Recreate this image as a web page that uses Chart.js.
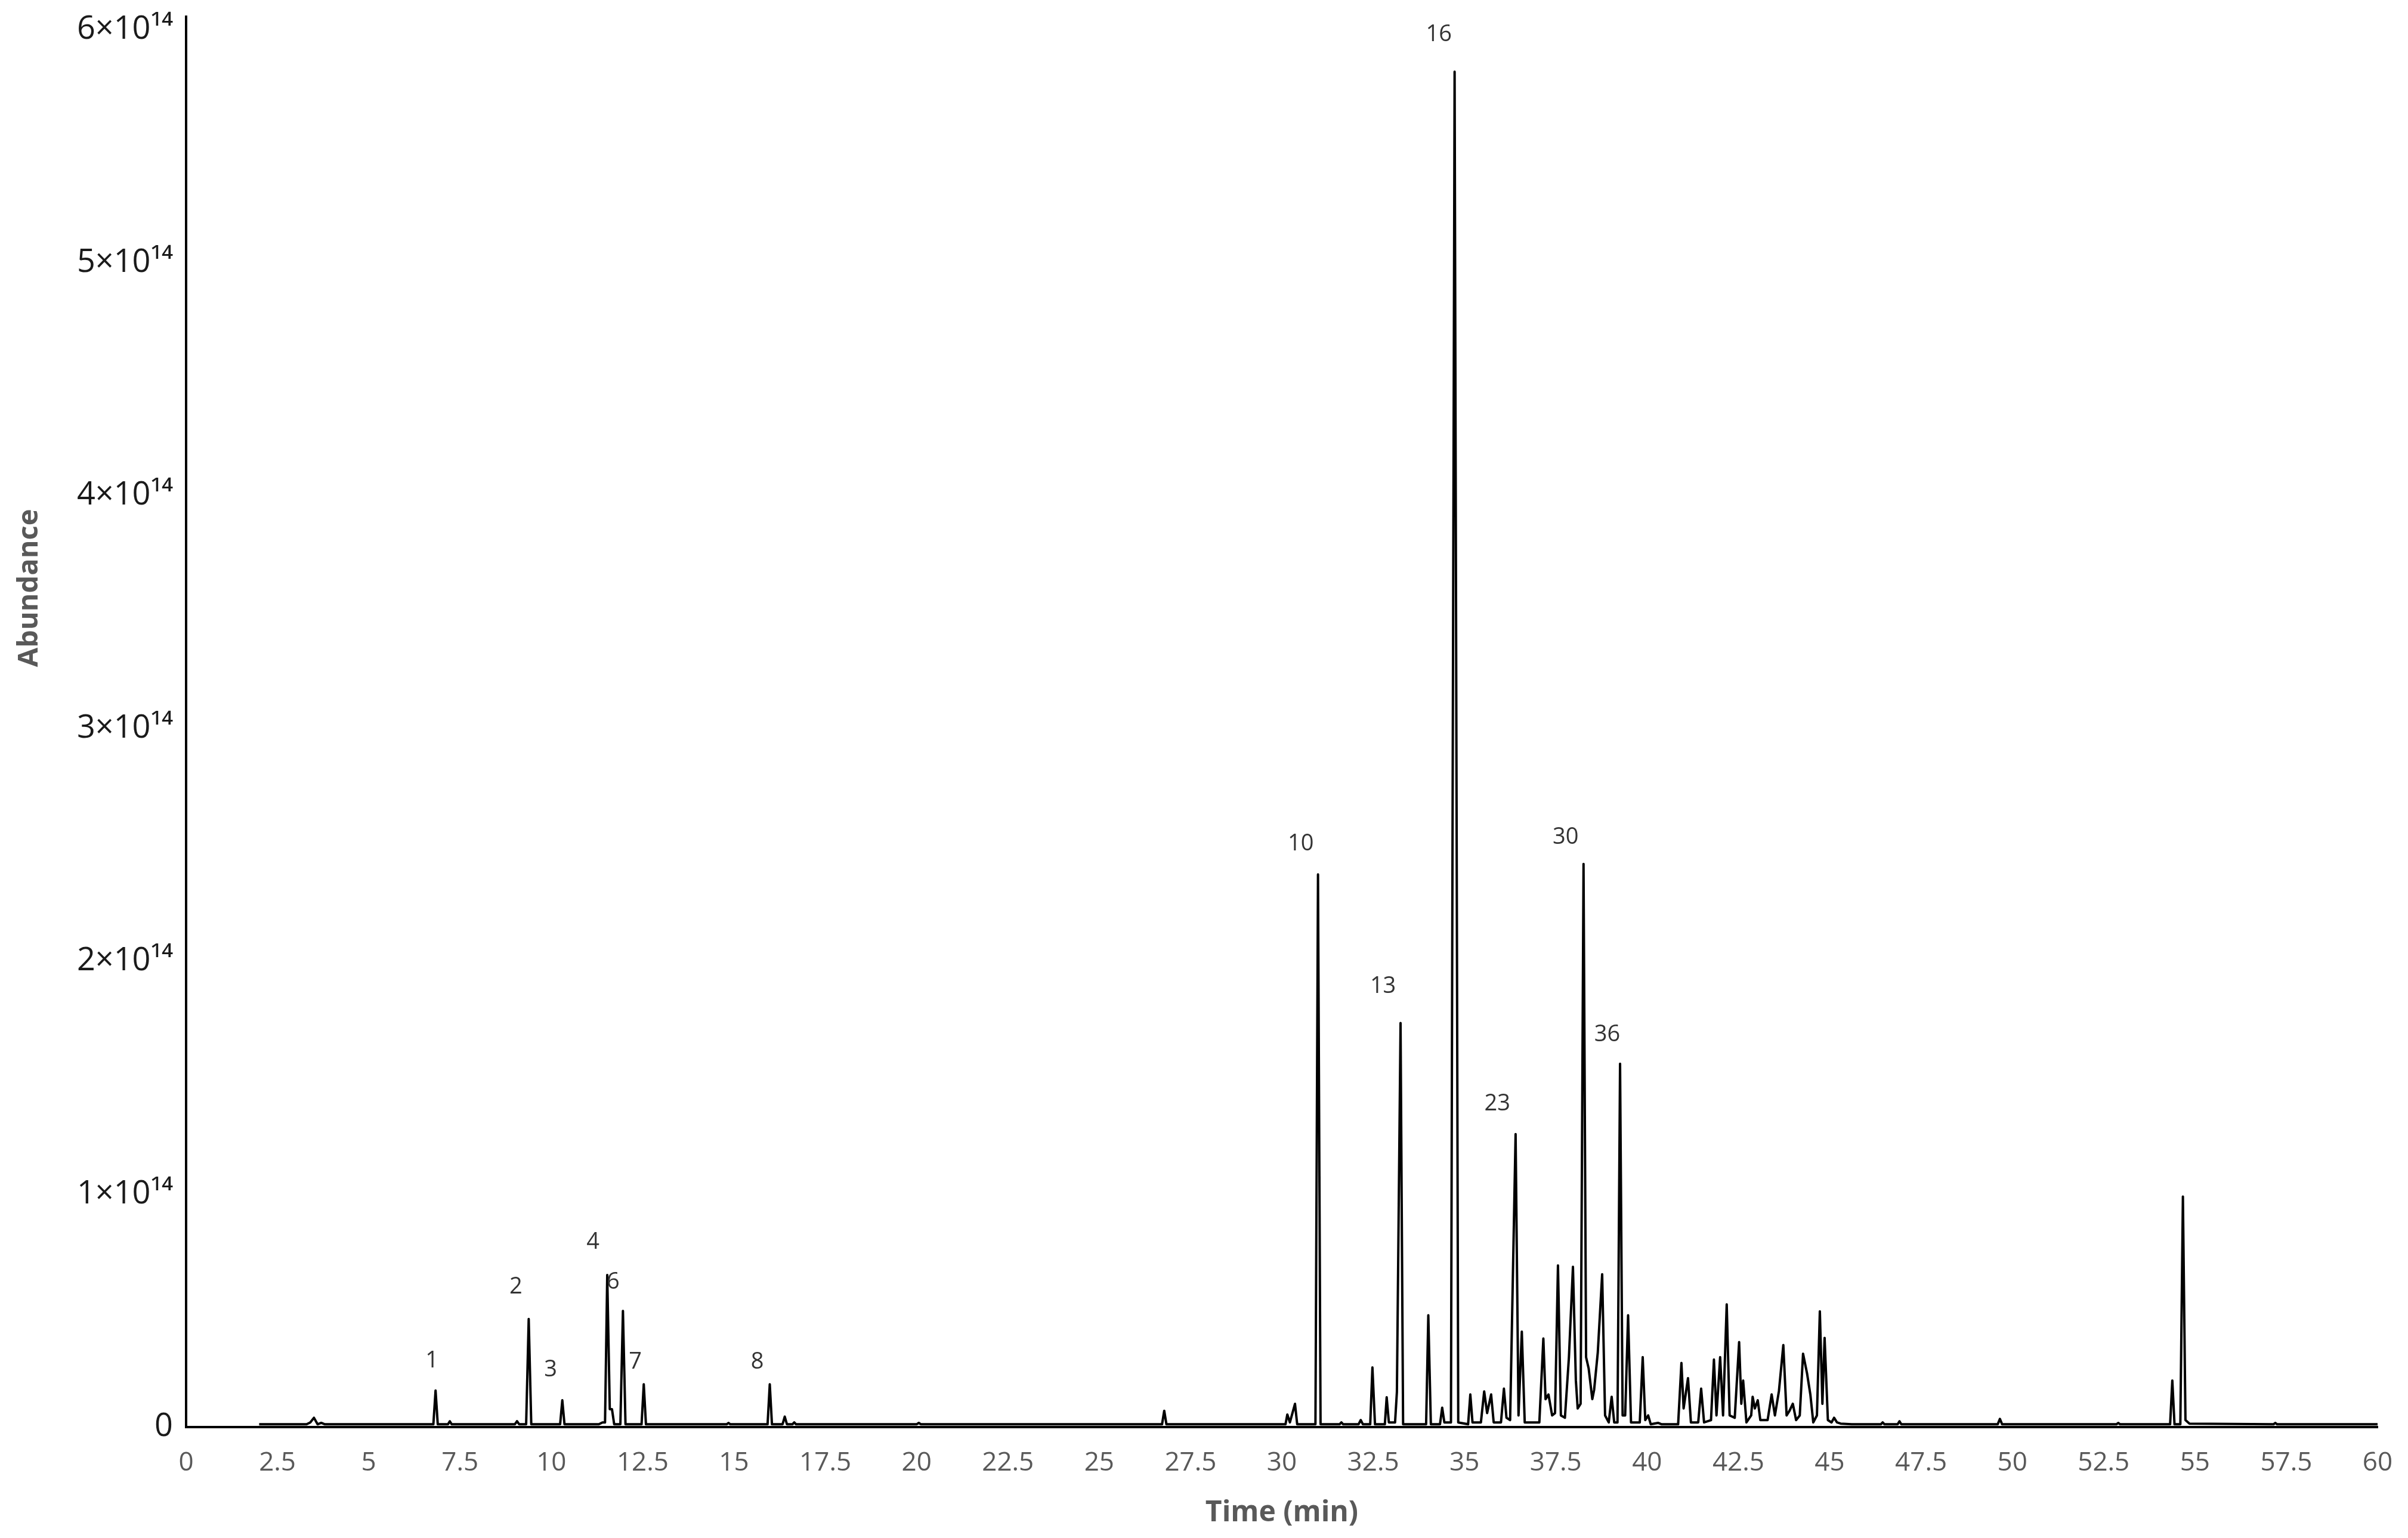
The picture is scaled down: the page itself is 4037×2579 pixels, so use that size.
<!DOCTYPE html>
<html>
<head>
<meta charset="utf-8">
<script src="https://cdn.jsdelivr.net/npm/chart.js@4.4.1/dist/chart.umd.min.js"></script>
<style>
  html, body { margin: 0; padding: 0; background: #ffffff; }
  #wrap { width: 4037px; height: 2579px; }
</style>
</head>
<body>
<div id="wrap"><canvas id="c" width="4037" height="2579"></canvas></div>
<script>
// ---- Data (retention time in min, abundance in units of 1e14) ----
const retentionTimes = [
  2.0,3.3,3.4,3.5,3.6,3.7,3.8, 6.77,6.83,6.89, 7.17,7.22,7.27, 9.0,9.06,9.12,
  9.31,9.38,9.45, 10.24,10.30,10.36, 11.30,11.40,11.47,11.53,11.60,11.66,11.72,
  11.89,11.96,12.03, 12.47,12.53,12.59,
  14.80,14.85,14.90, 15.92,15.98,16.04, 16.33,16.39,16.45,16.60,16.65,16.70,
  20.00,20.06,20.12, 26.72,26.78,26.84, 30.10,30.15,30.22,30.36,30.42,
  30.92,30.99,31.06, 31.58,31.63,31.68, 32.10,32.16,32.22,
  32.42,32.48,32.55, 32.82,32.87,32.93,33.10,33.15,33.25,33.32,
  33.95,34.01,34.08, 34.33,34.39,34.45, 34.63,34.73,34.83,
  35.10,35.16,35.22,35.45,35.54,35.62,35.73,35.80,
  36.00,36.08,36.15,36.25,36.40,36.48,36.57,36.65,
  37.05,37.16,37.22,37.30,37.40,37.48,37.56,37.64,37.75,37.86,37.97,38.05,38.10,38.18,
  38.26,38.33,38.40,38.50,38.55,38.65,38.77,38.85,38.95,39.03,39.10,
  39.19,39.26,39.33,39.40,39.48,39.56,39.80,39.88,39.95,40.03,40.10,40.30,40.40,
  40.85,40.94,41.00,41.12,41.20,41.40,41.48,41.56,41.75,41.83,41.90,42.00,42.08,42.18,42.26,
  42.40,42.52,42.58,42.63,42.72,42.85,42.89,42.95,43.03,43.10,43.30,43.41,43.50,43.61,43.73,43.82,43.90,43.99,44.08,
  44.18,44.27,44.38,44.47,44.55,44.65,44.73,44.80,44.86,44.95,45.05,45.12,45.20,45.30,45.60,
  46.40,46.45,46.50,46.86,46.91,46.96, 49.60,49.66,49.72, 52.85,52.90,52.95,
  54.32,54.38,54.44,54.60,54.67,54.74,54.85, 57.15,57.20,57.25,60.00
];
const abundanceE14 = [
  0.012,0.012,0.02,0.04,0.012,0.018,0.012, 0.012,0.157,0.012, 0.012,0.025,0.012, 0.012,0.025,0.012,
  0.012,0.464,0.012, 0.012,0.115,0.012, 0.012,0.02,0.02,0.653,0.077,0.077,0.012,
  0.012,0.499,0.012, 0.012,0.184,0.012,
  0.012,0.018,0.012, 0.012,0.184,0.012, 0.012,0.045,0.012,0.012,0.02,0.012,
  0.012,0.018,0.012, 0.012,0.07,0.012, 0.012,0.054,0.02,0.10,0.012,
  0.012,2.373,0.012, 0.012,0.02,0.012, 0.012,0.03,0.012,
  0.012,0.256,0.012, 0.012,0.128,0.02,0.02,0.15,1.735,0.012,
  0.012,0.48,0.012, 0.012,0.083,0.02, 0.02,5.82,0.02,
  0.012,0.14,0.02,0.02,0.153,0.06,0.14,0.02,
  0.02,0.165,0.04,0.03,1.258,0.05,0.41,0.02,
  0.02,0.38,0.12,0.14,0.05,0.06,0.694,0.05,0.04,0.30,0.688,0.20,0.08,0.10,
  2.418,0.30,0.252,0.12,0.16,0.32,0.656,0.05,0.02,0.13,0.02,
  0.02,1.56,0.05,0.05,0.48,0.02,0.02,0.30,0.03,0.05,0.012,0.018,0.012,
  0.012,0.275,0.08,0.21,0.02,0.02,0.165,0.02,0.03,0.29,0.05,0.30,0.05,0.527,0.05,
  0.04,0.365,0.10,0.20,0.02,0.05,0.13,0.08,0.115,0.03,0.03,0.14,0.05,0.155,0.352,0.05,0.07,0.10,0.03,
  0.05,0.315,0.23,0.14,0.02,0.05,0.497,0.10,0.383,0.03,0.02,0.04,0.02,0.015,0.012,
  0.012,0.02,0.012,0.012,0.025,0.012, 0.012,0.035,0.012, 0.012,0.018,0.012,
  0.012,0.20,0.012,0.012,0.99,0.03,0.015, 0.012,0.018,0.012,0.012
];

const peakLabels  = ['1','2','3','4','6','7','8','10','13','16','23','30','36'];
const labelTimes  = [6.73, 9.03, 9.98, 11.14, 11.69, 12.30, 15.64, 30.52, 32.77, 34.30, 35.90, 37.77, 38.91];
const labelValues = [0.284, 0.602, 0.246, 0.794, 0.622, 0.279, 0.279, 2.503, 1.892, 5.98, 1.388, 2.533, 1.685];

const xTickValues = [0,2.5,5,7.5,10,12.5,15,17.5,20,22.5,25,27.5,30,32.5,35,37.5,40,42.5,45,47.5,50,52.5,55,57.5,60];
const yTickValues = [0,1,2,3,4,5,6];
const yMax = 6.056;

if (retentionTimes.length !== abundanceE14.length) {
  console.error('length mismatch', retentionTimes.length, abundanceE14.length);
}
const tracePoints = retentionTimes.map((t, i) => ({ x: t, y: abundanceE14[i] }));

const SUP = {'0':'⁰','1':'¹','2':'²','3':'³','4':'⁴','5':'⁵','6':'⁶','7':'⁷','8':'⁸','9':'⁹'};
const sup = s => s.split('').map(ch => SUP[ch] || ch).join('');

const extraText = {
  id: 'extraText',
  afterDatasetsDraw(chart) {
    const ctx = chart.ctx;
    const xs = chart.scales.x, ys = chart.scales.y;
    ctx.save();
    ctx.fillStyle = '#333333';
    ctx.font = '38px "Open Sans"';
    ctx.textAlign = 'center';
    ctx.textBaseline = 'middle';
    peakLabels.forEach((lab, i) => {
      ctx.fillText(lab, xs.getPixelForValue(labelTimes[i]), ys.getPixelForValue(labelValues[i]));
    });
    // y-axis title
    ctx.fillStyle = '#595959';
    ctx.font = 'bold 47px "Open Sans"';
    ctx.translate(50, 986);
    ctx.rotate(-Math.PI / 2);
    ctx.fillText('Abundance', 0, 0);
    ctx.restore();
  }
};

new Chart(document.getElementById('c'), {
  type: 'line',
  data: {
    datasets: [{
      label: 'Abundance',
      data: tracePoints,
      borderColor: '#000000',
      borderWidth: 4,
      borderJoinStyle: 'round',
      pointRadius: 0,
      tension: 0,
      fill: false
    }]
  },
  options: {
    responsive: false,
    animation: false,
    devicePixelRatio: 1,
    layout: { padding: { left: 0, top: 28, right: 51, bottom: 0 } },
    plugins: { legend: { display: false }, tooltip: { enabled: false } },
    scales: {
      x: {
        type: 'linear',
        min: 0, max: 60,
        grid: { display: false, drawTicks: false },
        border: { display: true, color: '#000000', width: 4 },
        afterBuildTicks: s => { s.ticks = xTickValues.map(v => ({ value: v })); },
        afterFit: s => { s.height = 2579 - 2393; },
        ticks: {
          color: '#595959',
          font: { family: '"Open Sans"', size: 44, lineHeight: 2.727 },
          padding: 0,
          maxRotation: 0,
          autoSkip: false,
          callback: v => String(v)
        },
        title: {
          display: true,
          text: 'Time (min)',
          color: '#595959',
          font: { family: '"Open Sans"', size: 48, weight: 'bold' },
          padding: { top: 0, bottom: 13 }
        }
      },
      y: {
        type: 'linear',
        min: 0, max: yMax,
        grid: { display: false, drawTicks: false },
        border: { display: true, color: '#000000', width: 4 },
        afterBuildTicks: s => { s.ticks = yTickValues.map(v => ({ value: v })); },
        afterFit: s => { s.width = 312; },
        ticks: {
          color: '#1a1a1a',
          font: { family: '"Open Sans"', size: 54, lineHeight: 0.2 },
          padding: 22,
          autoSkip: false,
          callback: v => v === 0 ? '0' : v + '×10' + sup('14')
        },
        title: { display: false }
      }
    }
  },
  plugins: [extraText]
});
</script>
</body>
</html>
